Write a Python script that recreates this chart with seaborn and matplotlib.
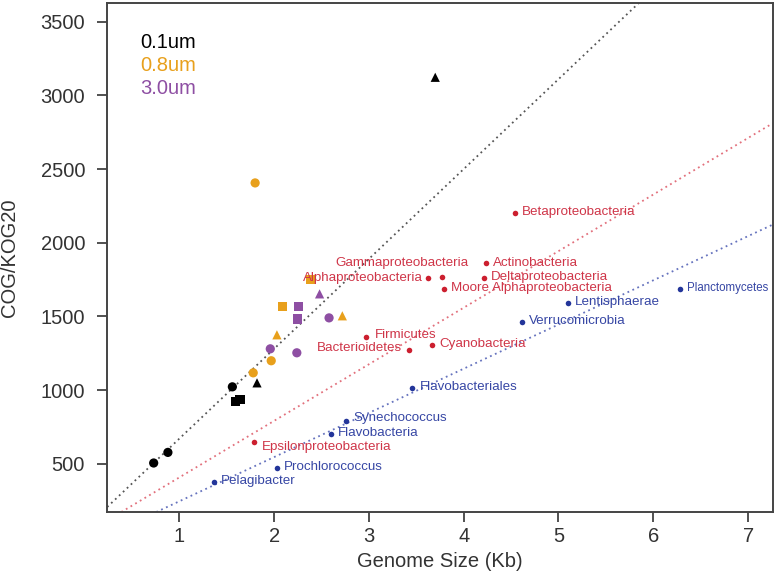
import pandas as pd
import seaborn as sns
import matplotlib.pyplot as plt

# --- size fractions (metagenomes) ---
frac_x = [0.73, 0.88, 1.56, 1.59, 1.64, 1.82, 3.70,
          1.80, 2.39, 2.09, 2.03, 1.97, 1.78, 2.72,
          2.48, 2.26, 2.25, 2.58, 1.96, 2.24]
frac_y = [505, 577, 1022, 920, 934, 1049, 3123,
          2406, 1748, 1565, 1375, 1199, 1117, 1504,
          1653, 1565, 1483, 1490, 1280, 1253]
frac_size = ["0.1um"] * 7 + ["0.8um"] * 7 + ["3.0um"] * 6
frac_set = ["A", "A", "A", "B", "B", "C", "C",
            "A", "B", "B", "C", "A", "A", "C",
            "C", "B", "B", "A", "A", "A"]

# --- reference genomes ---
red_taxa = ["Betaproteobacteria", "Actinobacteria", "Gammaproteobacteria",
            "Alphaproteobacteria", "Deltaproteobacteria", "Moore Alphaproteobacteria",
            "Firmicutes", "Bacterioidetes", "Cyanobacteria", "Epsilonproteobacteria"]
red_x = [4.54, 4.24, 3.77, 3.62, 4.21, 3.79, 2.97, 3.42, 3.67, 1.79]
red_y = [2205, 1861, 1766, 1760, 1760, 1687, 1359, 1273, 1305, 645]

blue_taxa = ["Planctomycetes", "Lentisphaerae", "Verrucomicrobia", "Flavobacteriales",
             "Synechococcus", "Flavobacteria", "Prochlorococcus", "Pelagibacter"]
blue_x = [6.28, 5.10, 4.62, 3.46, 2.76, 2.60, 2.03, 1.37]
blue_y = [1687, 1594, 1465, 1017, 790, 701, 473, 376]

# fitted lines (intercept, slope): metagenomes, red group, blue group
line_intercepts = [60, 23, -55]
line_slopes = [610, 384, 300]

frac_colors = {"0.1um": "black", "0.8um": "#e8a01c", "3.0um": "#8e4fa3"}
red_dot, red_txt = "#cc1f2f", "#cf3548"
blue_dot, blue_txt = "#23359a", "#3646a4"

# label offsets in points (dx, dy, ha)
label_pos = {
    "Gammaproteobacteria": (19, 10.5, "right"), "Alphaproteobacteria": (-3.5, 0, "right"),
    "Bacterioidetes": (-5, 1, "right"), "Synechococcus": (5, 2, "left"),
    "Flavobacteria": (5, 0.5, "left"), "Firmicutes": (6.5, 1.5, "left"),
    "Epsilonproteobacteria": (5.5, -3, "left"),
}


def main():
    sns.set_style("ticks")
    plt.rcParams["font.family"] = ["Liberation Sans", "DejaVu Sans"]

    fig, ax = plt.subplots(figsize=(7.77, 5.76), dpi=100)
    fig.subplots_adjust(left=0.138, right=0.9945, top=0.995, bottom=0.111)

    colors = ["#555555", "#e2707c", "#6673be"]
    for b, m, c in zip(line_intercepts, line_slopes, colors):
        ax.axline((0, b), slope=m, color=c, linestyle=(0, (1, 2)), linewidth=1.3, zorder=1)

    df = pd.DataFrame({"x": frac_x, "y": frac_y, "size": frac_size, "set": frac_set})
    sns.scatterplot(data=df, x="x", y="y", hue="size", style="set", palette=frac_colors,
                    markers={"A": "o", "B": "s", "C": "^"}, s=44, linewidth=0,
                    legend=False, ax=ax, zorder=3)

    red_df = pd.DataFrame({"x": red_x, "y": red_y, "taxon": red_taxa})
    blue_df = pd.DataFrame({"x": blue_x, "y": blue_y, "taxon": blue_taxa})
    sns.scatterplot(data=red_df, x="x", y="y", color=red_dot, s=16, linewidth=0, ax=ax, zorder=3)
    sns.scatterplot(data=blue_df, x="x", y="y", color=blue_dot, s=16, linewidth=0, ax=ax, zorder=3)

    for d, tc in ((red_df, red_txt), (blue_df, blue_txt)):
        for _, r in d.iterrows():
            dx, dy, ha = label_pos.get(r.taxon, (5, 0.5, "left"))
            fs = 8.3 if r.taxon == "Planctomycetes" else 9.6
            ax.annotate(r.taxon, (r.x, r.y), xytext=(dx, dy), textcoords="offset points",
                        ha=ha, va="center", color=tc, fontsize=fs)

    for i, (lab, c) in enumerate(frac_colors.items()):
        ax.text(0.05, 0.923 - i * 0.046, lab, transform=ax.transAxes, color=c,
                fontsize=14.5, va="center", ha="left")

    ax.set_xlim(0.24, 7.26)
    ax.set_ylim(172, 3628)
    ax.set_xticks([1, 2, 3, 4, 5, 6, 7])
    ax.set_yticks([500, 1000, 1500, 2000, 2500, 3000, 3500])
    ax.set_xlabel("Genome Size (Kb)", fontsize=14.5, color="#333333", labelpad=4)
    ax.set_ylabel("COG/KOG20", fontsize=14.5, color="#333333")
    ax.yaxis.set_label_coords(-0.132, 0.5)
    ax.tick_params(labelsize=14.5, colors="#333333", length=7, width=1.2)
    ax.tick_params(axis="x", pad=4)
    ax.tick_params(axis="y", pad=9)
    for sp in ax.spines.values():
        sp.set_visible(True)
        sp.set_color("#444444")
        sp.set_linewidth(1.4)

    fig.savefig("out.png", dpi=100)


if __name__ == "__main__":
    main()
